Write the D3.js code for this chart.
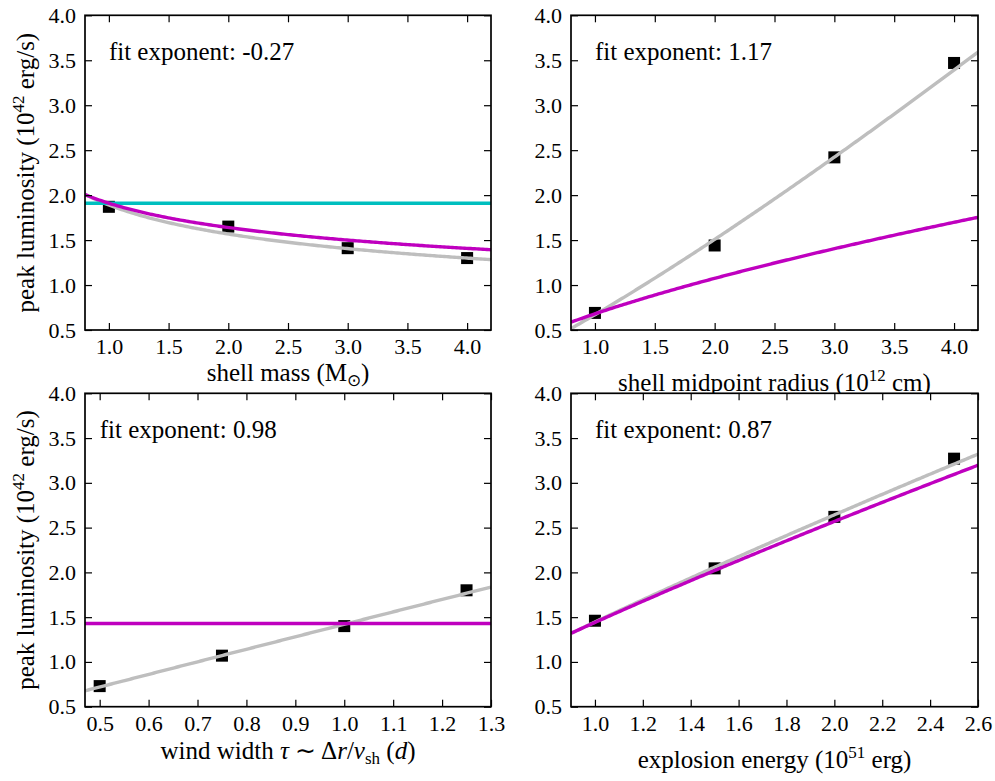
<!DOCTYPE html>
<html><head><meta charset="utf-8">
<script src="https://cdn.jsdelivr.net/npm/d3@7"></script>
<style>
body{margin:0;background:#fff;}
svg{display:block;}
</style></head>
<body><svg id="c" width="995" height="781"></svg>
<script>
// ---- data ----
const massX = [1.0, 2.0, 3.0, 4.0];
const massL = [1.87, 1.65, 1.41, 1.30];
const radiusX = [1.0, 2.0, 3.0, 4.0];
const radiusL = [0.69, 1.44, 2.42, 3.47];
const widthX = [0.5, 0.75, 1.0, 1.25];
const widthL = [0.73, 1.07, 1.40, 1.80];
const energyX = [1.0, 1.5, 2.0, 2.5];
const energyL = [1.46, 2.045, 2.62, 3.27];
// power-law fit (gray): L = amp * x^exp
const fitAmp = [1.89, 0.67, 1.42, 1.446];
const fitExp = [-0.27, 1.17, 0.98, 0.87];
const fitLabels = ["fit exponent: -0.27", "fit exponent: 1.17", "fit exponent: 0.98", "fit exponent: 0.87"];
// analytic model (magenta): L = amp * x^exp
const modelAmp = [1.91, 0.68, 1.43, 1.441];
const modelExp = [-0.22, 0.66, 0.0, 0.834];
// constant reference (cyan), shell-mass panel only
const refLevel = [1.91];
const xDomains = [[0.8, 4.2], [0.8, 4.2], [0.47, 1.3], [0.9, 2.6]];
const xTicks = [
  [1.0, 1.5, 2.0, 2.5, 3.0, 3.5, 4.0],
  [1.0, 1.5, 2.0, 2.5, 3.0, 3.5, 4.0],
  [0.5, 0.6, 0.7, 0.8, 0.9, 1.0, 1.1, 1.2, 1.3],
  [1.0, 1.2, 1.4, 1.6, 1.8, 2.0, 2.2, 2.4, 2.6]
];
const yDomain = [0.5, 4.0];
const yTicks = [0.5, 1.0, 1.5, 2.0, 2.5, 3.0, 3.5, 4.0];

// ---- layout ----
const layout = [
  {x0: 85, x1: 491, y0: 15.3, y1: 330, xlabY: 381, ylab: true},
  {x0: 571, x1: 978, y0: 15.3, y1: 330, xlabY: 391, ylab: false},
  {x0: 85, x1: 491, y0: 393.3, y1: 706.7, xlabY: 759, ylab: true},
  {x0: 571, x1: 978, y0: 393.3, y1: 706.7, xlabY: 768, ylab: false}
];
const pointsX = [massX, radiusX, widthX, energyX];
const pointsY = [massL, radiusL, widthL, energyL];

const MAGENTA = "#bf00bf", CYAN = "#00bfbf", GRAY = "#bebebe";
const FONT = "\"Liberation Serif\", serif";
const svg = d3.select("#c");
const fmt = d3.format(".1f");
const TICK = 22, LAB = 25, SUP = 17;

function styleText(sel, size) {
  return sel.style("font-family", FONT).style("font-size", size + "px").style("fill", "#000");
}

function xLabel(g, i) {
  const t = styleText(g.append("text").attr("text-anchor", "middle"), LAB);
  if (i === 0) {
    t.append("tspan").text("shell mass (M");
    t.append("tspan").attr("dy", 5).style("font-size", SUP + "px").text("\u2299");
    t.append("tspan").attr("dy", -5).text(")");
  } else if (i === 1) {
    t.append("tspan").text("shell midpoint radius (10");
    t.append("tspan").attr("dy", -10).style("font-size", SUP + "px").text("12");
    t.append("tspan").attr("dy", 10).text(" cm)");
  } else if (i === 2) {
    t.append("tspan").text("wind width ");
    t.append("tspan").style("font-style", "italic").text("\u03c4");
    t.append("tspan").text(" \u223c \u0394");
    t.append("tspan").style("font-style", "italic").text("r");
    t.append("tspan").text("/");
    t.append("tspan").style("font-style", "italic").text("v");
    t.append("tspan").attr("dy", 5).style("font-size", SUP + "px").text("sh");
    t.append("tspan").attr("dy", -5).text(" (");
    t.append("tspan").style("font-style", "italic").text("d");
    t.append("tspan").text(")");
  } else {
    t.append("tspan").text("explosion energy (10");
    t.append("tspan").attr("dy", -10).style("font-size", SUP + "px").text("51");
    t.append("tspan").attr("dy", 10).text(" erg)");
  }
  return t;
}

layout.forEach((L, i) => {
  const g = svg.append("g");
  const x = d3.scaleLinear().domain(xDomains[i]).range([L.x0, L.x1]);
  const y = d3.scaleLinear().domain(yDomain).range([L.y1, L.y0]);
  g.append("rect").attr("x", L.x0).attr("y", L.y0).attr("width", L.x1 - L.x0).attr("height", L.y1 - L.y0).attr("fill", "#fff");
  const cid = "clip" + i;
  g.append("clipPath").attr("id", cid).append("rect")
    .attr("x", L.x0).attr("y", L.y0).attr("width", L.x1 - L.x0).attr("height", L.y1 - L.y0);
  const plot = g.append("g").attr("clip-path", `url(#${cid})`);

  // points
  const sq = 12;
  plot.selectAll("rect.pt").data(pointsX[i].map((v, k) => [v, pointsY[i][k]])).join("rect")
    .attr("class", "pt")
    .attr("x", d => x(d[0]) - sq / 2).attr("y", d => y(d[1]) - sq / 2)
    .attr("width", sq).attr("height", sq).attr("fill", "#000");

  const xs = d3.range(0, 201).map(k => xDomains[i][0] + (xDomains[i][1] - xDomains[i][0]) * k / 200);
  const line = d3.line().x(d => x(d[0])).y(d => y(d[1]));
  // gray fit
  plot.append("path").attr("d", line(xs.map(v => [v, fitAmp[i] * Math.pow(v, fitExp[i])])))
    .attr("fill", "none").attr("stroke", GRAY).attr("stroke-width", 3.4);
  // cyan reference
  if (i === 0) {
    plot.append("path").attr("d", line(xDomains[i].map(v => [v, refLevel[0]])))
      .attr("fill", "none").attr("stroke", CYAN).attr("stroke-width", 3.4);
  }
  // magenta model
  plot.append("path").attr("d", line(xs.map(v => [v, modelAmp[i] * Math.pow(v, modelExp[i])])))
    .attr("fill", "none").attr("stroke", MAGENTA).attr("stroke-width", 3.4);

  // axes
  const ax = (gen, tr) => {
    const a = g.append("g").attr("transform", tr).call(gen);
    a.select(".domain").remove();
    a.selectAll(".tick line").attr("stroke", "#000").attr("stroke-width", 1.2);
    styleText(a.selectAll("text"), TICK);
    return a;
  };
  ax(d3.axisBottom(x).tickValues(xTicks[i]).tickFormat(fmt).tickSize(-7).tickSizeOuter(0).tickPadding(8.4), `translate(0,${L.y1})`);
  ax(d3.axisTop(x).tickValues(xTicks[i]).tickFormat("").tickSize(-7).tickSizeOuter(0), `translate(0,${L.y0})`);
  ax(d3.axisLeft(y).tickValues(yTicks).tickFormat(fmt).tickSize(-7).tickSizeOuter(0).tickPadding(9), `translate(${L.x0},0)`);
  ax(d3.axisRight(y).tickValues(yTicks).tickFormat("").tickSize(-7).tickSizeOuter(0), `translate(${L.x1},0)`);

  // frame
  g.append("rect").attr("x", L.x0).attr("y", L.y0).attr("width", L.x1 - L.x0).attr("height", L.y1 - L.y0)
    .attr("fill", "none").attr("stroke", "#000").attr("stroke-width", 1.7);

  // annotation
  styleText(g.append("text").attr("x", x(pointsX[i][0])).attr("y", y(3.5)), LAB).text(fitLabels[i]);

  // x label
  xLabel(g, i).attr("x", (L.x0 + L.x1) / 2).attr("y", L.xlabY);

  // y label
  if (L.ylab) {
    const cy = (L.y0 + L.y1) / 2;
    const t = styleText(g.append("text").attr("text-anchor", "middle")
      .attr("transform", `translate(34,${cy}) rotate(-90)`), LAB);
    t.append("tspan").text("peak luminosity (10");
    t.append("tspan").attr("dy", -10).style("font-size", SUP + "px").text("42");
    t.append("tspan").attr("dy", 10).text(" erg/s)");
  }
});
</script></body></html>
